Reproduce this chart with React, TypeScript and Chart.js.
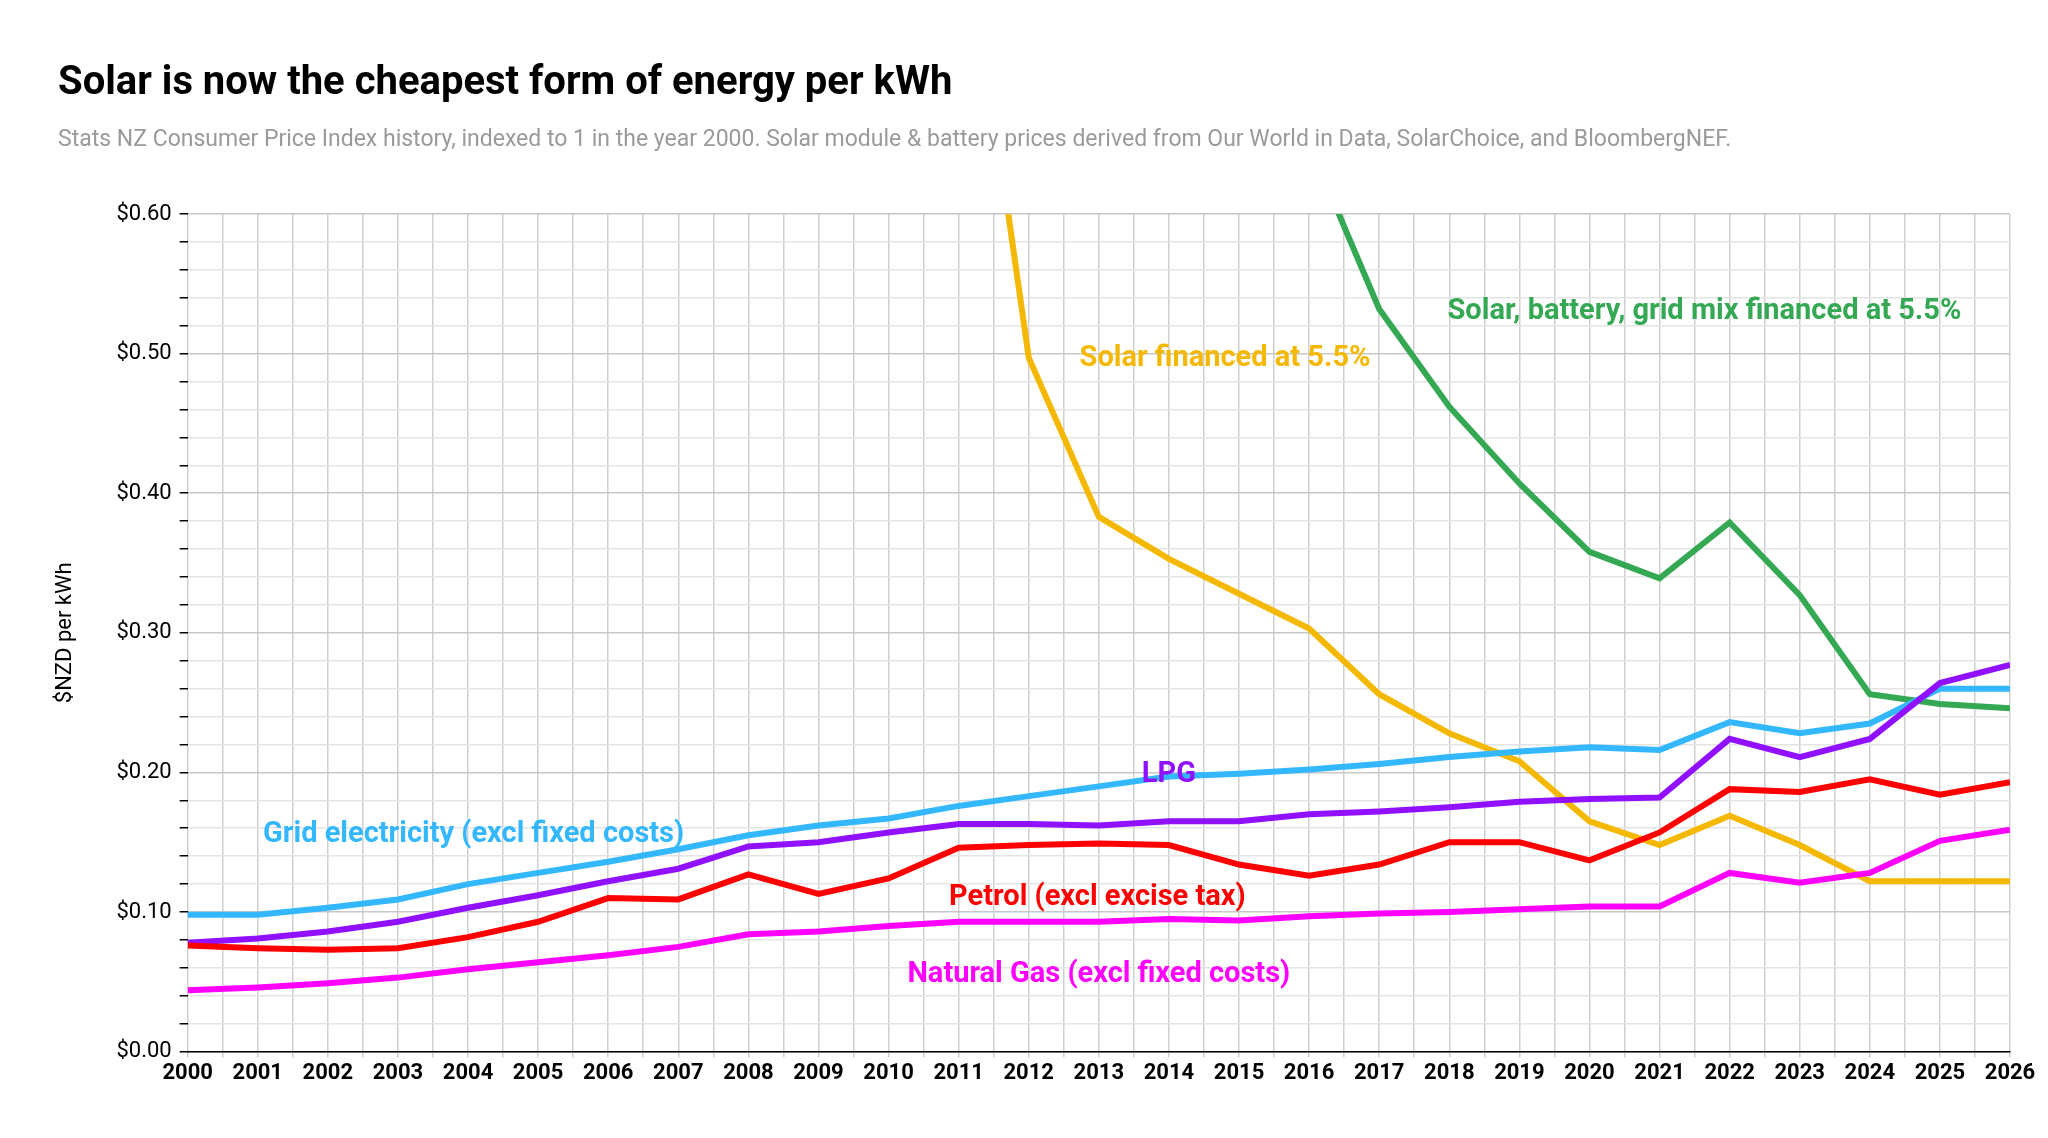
import React, { useEffect, useRef } from "react";
import { Chart, registerables } from "chart.js";
Chart.register(...registerables);

const years = Array.from({ length: 27 }, (_, i) => 2000 + i);
const gridElec = [.098,.098,.103,.109,.120,.128,.136,.145,.155,.162,.167,.176,.183,.190,.197,.199,.202,.206,.211,.215,.218,.216,.236,.228,.235,.260,.260];
const lpg = [.078,.081,.086,.093,.103,.112,.122,.131,.147,.150,.157,.163,.163,.162,.165,.165,.170,.172,.175,.179,.181,.182,.224,.211,.224,.264,.277];
const petrol = [.076,.074,.073,.074,.082,.093,.110,.109,.127,.113,.124,.146,.148,.149,.148,.134,.126,.134,.150,.150,.137,.157,.188,.186,.195,.184,.193];
const gas = [.044,.046,.049,.053,.059,.064,.069,.075,.084,.086,.090,.093,.093,.093,.095,.094,.097,.099,.100,.102,.104,.104,.128,.121,.128,.151,.159];
const solarYears = [2011,2012,2013,2014,2015,2016,2017,2018,2019,2020,2021,2022,2023,2024,2025,2026];
const solar = [.85,.497,.383,.353,.328,.303,.256,.228,.208,.165,.148,.169,.148,.122,.122,.122];
const mixYears = [2016,2017,2018,2019,2020,2021,2022,2023,2024,2025,2026];
const mix = [.65,.532,.462,.407,.358,.339,.379,.327,.256,.249,.246];

const labels = [
  { text: "Solar, battery, grid mix financed at 5.5%", x: 2021.64, y: 0.53, color: "#34a853" },
  { text: "Solar financed at 5.5%", x: 2014.8, y: 0.496, color: "#f5b800" },
  { text: "LPG", x: 2014.0, y: 0.198, color: "#9010ff" },
  { text: "Grid electricity (excl fixed costs)", x: 2004.08, y: 0.155, color: "#33b8ff" },
  { text: "Petrol (excl excise tax)", x: 2012.98, y: 0.110, color: "#ff0000" },
  { text: "Natural Gas (excl fixed costs)", x: 2013.0, y: 0.055, color: "#ff00ff" },
];

const pts = (xs: number[], ys: number[]) => xs.map((x, i) => ({ x, y: ys[i] }));

export default function App() {
  const ref = useRef<HTMLCanvasElement>(null);
  useEffect(() => {
    const font = "Roboto, 'Open Sans', sans-serif";
    const ds = (d: any[], c: string) => ({ data: d, borderColor: c, backgroundColor: c, borderWidth: 6, pointRadius: 0, tension: 0, clip: true as any });
    const chart = new Chart(ref.current!, {
      type: "line",
      data: {
        datasets: [
          ds(pts(years, gas), "#ff00ff"),
          ds(pts(years, petrol), "#ff0000"),
          ds(pts(years, lpg), "#9010ff"),
          ds(pts(years, gridElec), "#33b8ff"),
          ds(pts(solarYears, solar), "#f5b800"),
          ds(pts(mixYears, mix), "#34a853"),
        ],
      },
      options: {
        animation: false,
        responsive: false,
        layout: { padding: { top: 206, left: 40, right: 30, bottom: 40 } },
        plugins: { legend: { display: false }, tooltip: { enabled: false } },
        scales: {
          x: {
            type: "linear", min: 2000, max: 2026,
            ticks: { stepSize: 0.5, autoSkip: false, maxRotation: 0, color: "#000", font: { family: font, size: 22, weight: "bold" },
              callback: (v: any) => (Number.isInteger(v) ? String(v) : "") },
            grid: { color: "#d0d0d0", lineWidth: 1.5, tickLength: 6 },
            border: { color: "#000", width: 1.5 },
          },
          y: {
            min: 0, max: 0.6,
            ticks: { stepSize: 0.02, autoSkip: false, color: "#000", font: { family: font, size: 22 }, padding: 8,
              callback: (v: any) => (Math.abs(v * 10 - Math.round(v * 10)) < 1e-6 ? "$" + Number(v).toFixed(2) : "") },
            grid: { color: (c: any) => (Math.abs(c.tick.value * 10 - Math.round(c.tick.value * 10)) < 1e-6 ? "#c8c8c8" : "#e4e4e4"), lineWidth: 1.5, tickLength: 8, tickColor: "#000" },
            border: { display: false },
            title: { display: true, text: "$NZD per kWh", color: "#000", font: { family: font, size: 22 }, padding: { bottom: 30 } },
          },
        },
      },
      plugins: [{
        id: "texts",
        afterDraw(c: any) {
          const ctx = c.ctx;
          ctx.save();
          ctx.textBaseline = "middle";
          ctx.textAlign = "left";
          ctx.fillStyle = "#000";
          ctx.font = `bold 40px ${font}`;
          ctx.fillText("Solar is now the cheapest form of energy per kWh", 50, 76);
          ctx.fillStyle = "#9a9a9a";
          ctx.font = `23px ${font}`;
          ctx.fillText("Stats NZ Consumer Price Index history, indexed to 1 in the year 2000. Solar module & battery prices derived from Our World in Data, SolarChoice, and BloombergNEF.", 50, 132);
          ctx.textAlign = "center";
          ctx.font = `bold 29px ${font}`;
          for (const l of labels) {
            ctx.fillStyle = l.color;
            ctx.fillText(l.text, c.scales.x.getPixelForValue(l.x), c.scales.y.getPixelForValue(l.y));
          }
          ctx.restore();
        },
      }],
    } as any);
    return () => chart.destroy();
  }, []);
  return <canvas ref={ref} width={2032} height={1122} style={{ display: "block" }} />;
}
